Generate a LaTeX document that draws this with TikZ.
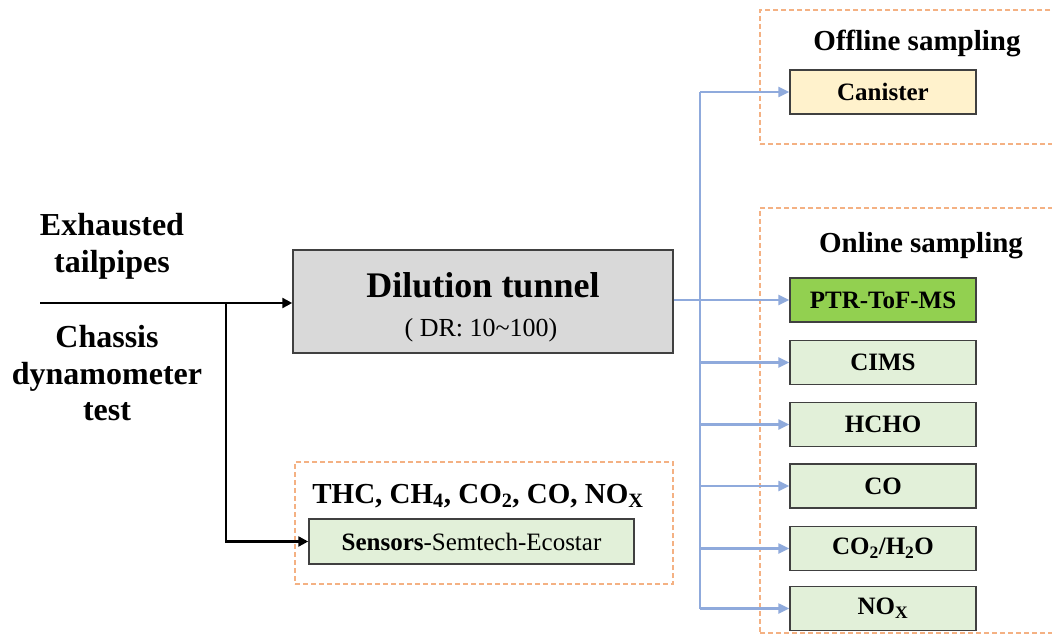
\documentclass[tikz,border=0pt]{standalone}
\usepackage{fontspec}
\setmainfont{Liberation Serif}
\usetikzlibrary{arrows.meta}
\definecolor{orng}{HTML}{F4B183}
\definecolor{blu}{HTML}{8FAADC}
\definecolor{cream}{HTML}{FFF2CC}
\definecolor{lgreen}{HTML}{E2F0D9}
\definecolor{dgreen}{HTML}{92D050}
\definecolor{lgray}{HTML}{D9D9D9}
\definecolor{edge}{HTML}{404040}
\begin{document}
\begin{tikzpicture}[x=1pt,y=-1pt,
 inst/.style={draw=edge, line width=1.5pt, minimum width=186pt, minimum height=44pt, inner sep=0pt, font=\fontsize{25}{30}\selectfont\bfseries, fill=lgreen},
 group/.style={draw=orng, line width=1.8pt, dash pattern=on 5pt off 3pt, inner sep=0pt},
 lbl/.style={font=\fontsize{29}{34}\selectfont\bfseries, inner sep=0pt, anchor=base},
 side/.style={font=\fontsize{32}{37}\selectfont\bfseries, inner sep=0pt, anchor=base},
 bluearrow/.style={draw=blu, line width=2.4pt, -{Triangle[length=11pt,width=10pt]}},
 bluebus/.style={draw=blu, line width=2.4pt},
 blackarrow/.style={draw=black, line width=2.4pt, -{Triangle[length=10pt,width=10pt]}},
]
\useasboundingbox (0,0) rectangle (1052,644);
\clip (0,0) rectangle (1052,644);
\fill[white] (0,0) rectangle (1052,644);

% group frames
\node[group, minimum width=310pt, minimum height=134pt] (offg) at (915,77) {};
\node[group, minimum width=310pt, minimum height=425pt] (ong) at (915,420.5) {};
\node[group, minimum width=378pt, minimum height=122pt] (seng) at (484,523) {};

% group labels
\node[lbl] (offl) at (917,51) {Offline sampling};
\node[lbl] (onl) at (921,253) {Online sampling};
\node[lbl] (senl) at (478,503) {THC, CH\textsubscript{4}, CO\textsubscript{2}, CO, NO\textsubscript{X}};

% instruments
\node[inst, fill=cream] (can) at (883,92) {Canister};
\node[inst, fill=dgreen] (ptr) at (883,300) {PTR-ToF-MS};
\node[inst] (cims) at (883,362.5) {CIMS};
\node[inst] (hcho) at (883,424.5) {HCHO};
\node[inst] (co) at (883,486) {CO};
\node[inst] (cotwo) at (883,548.5) {CO\textsubscript{2}/H\textsubscript{2}O};
\node[inst] (nox) at (883,608.5) {NO\textsubscript{X}};

\node[inst, minimum width=325pt, minimum height=45pt, font=\fontsize{25}{30}\selectfont] (sens) at (471.5,541.5) {\textbf{Sensors}-Semtech-Ecostar};

% dilution tunnel
\node[draw=edge, line width=1.5pt, fill=lgray, minimum width=380pt, minimum height=103pt, inner sep=0pt] (dil) at (483,301.5) {};
\node[inner sep=0pt, anchor=base, font=\fontsize{36}{40}\selectfont\bfseries] (dilt) at (483,298) {Dilution tunnel};
\node[inner sep=0pt, anchor=base, font=\fontsize{26}{30}\selectfont] (dils) at (481,337) {( DR: 10\textasciitilde100)};

% left texts
\node[side] (ex1) at (112,236) {Exhausted};
\node[side] (ex2) at (112,273) {tailpipes};
\node[side] (ch1) at (107,347) {Chassis};
\node[side] (ch2) at (107,384) {dynamometer};
\node[side] (ch3) at (107,420) {test};

% black connectors
\coordinate (src) at (40,303);
\coordinate (br) at (226,303);
\draw[blackarrow] (src) -- (src -| dil.west);
\draw[blackarrow] (br) |- (sens.west);

% blue connectors
\coordinate (bus) at (700,0);
\draw[bluebus] (can.west -| bus) -- (nox.west -| bus);
\draw[bluebus] (ptr.west -| dil.east) -- (ptr.west -| bus);
\foreach \n in {can,ptr,cims,hcho,co,cotwo,nox}
  \draw[bluearrow] (\n.west -| bus) -- (\n.west);
\end{tikzpicture}
\end{document}
